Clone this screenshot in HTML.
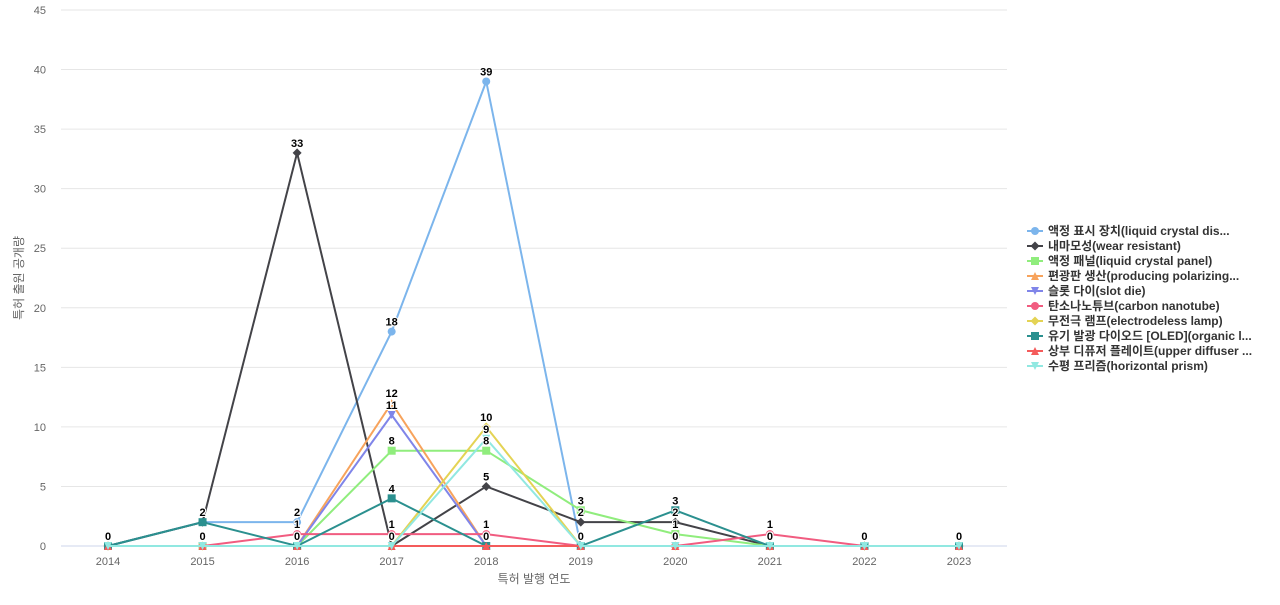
<!DOCTYPE html>
<html><head><meta charset="utf-8"><style>
body{margin:0;background:#fff;font-family:"Liberation Sans","Noto Sans CJK KR",sans-serif}
svg text{font-family:"Liberation Sans","Noto Sans CJK KR",sans-serif}
</style></head><body>
<svg id="c" width="1280" height="600"></svg>
<script>
const years=[2014,2015,2016,2017,2018,2019,2020,2021,2022,2023];
const yTicks=[0,5,10,15,20,25,30,35,40,45];
const names=["액정 표시 장치(liquid crystal dis...","내마모성(wear resistant)","액정 패널(liquid crystal panel)","편광판 생산(producing polarizing...","슬롯 다이(slot die)","탄소나노튜브(carbon nanotube)","무전극 램프(electrodeless lamp)","유기 발광 다이오드 [OLED](organic l...","상부 디퓨저 플레이트(upper diffuser ...","수평 프리즘(horizontal prism)"];
const s0=[0,2,2,18,39,0,0,0,0,0];
const s1=[0,2,33,0,5,2,2,0,0,0];
const s2=[0,0,0,8,8,3,1,0,0,0];
const s3=[0,0,0,12,0,0,0,0,0,0];
const s4=[0,0,0,11,0,0,0,0,0,0];
const s5=[0,0,1,1,1,0,0,1,0,0];
const s6=[0,0,0,0,10,0,0,0,0,0];
const s7=[0,2,0,4,0,0,3,0,0,0];
const s8=[0,0,0,0,0,0,0,0,0,0];
const s9=[0,0,0,0,9,0,0,0,0,0];
const series=[s0,s1,s2,s3,s4,s5,s6,s7,s8,s9];
const colors=["#7cb5ec","#434348","#90ed7d","#f7a35c","#8085e9","#f15c80","#e4d354","#2b908f","#f45b5b","#91e8e1"];
const markers=["circle","diamond","square","triangle","tdown","circle","diamond","square","triangle","tdown"];
const NS="http://www.w3.org/2000/svg";
const svg=document.getElementById('c');
const L=61,R=1007,T=10,B=546;
const x=i=>108+i*(959-108)/(years.length-1);
const y=v=>B-v*(B-T)/45;
function el(t,a,p){const e=document.createElementNS(NS,t);for(const k in a)e.setAttribute(k,a[k]);(p||svg).appendChild(e);return e;}
yTicks.forEach(v=>{
 const g=el('line',{x1:L,x2:R,y1:y(v),y2:y(v),stroke:v?'#e6e6e6':'#ccd6eb'});
 
 
 const t=el('text',{x:46,y:y(v)+4,'text-anchor':'end','font-size':11,fill:'#666'});t.textContent=v;
 
 
});
years.forEach((yr,i)=>{
 const t=el('text',{x:x(i),y:565,'text-anchor':'middle','font-size':11,fill:'#666'});t.textContent=yr;
 
 
});
let t=el('text',{x:534,y:583,'text-anchor':'middle','font-size':12,fill:'#666'});t.textContent='특허 발행 연도';


t=el('text',{x:0,y:0,transform:'translate(23,278) rotate(-90)','text-anchor':'middle','font-size':12,fill:'#666'});t.textContent='특허 출원 공개량';


function marker(kind,cx,cy,c,g){
 let m;
 if(kind==='circle')m=el('circle',{cx,cy,r:4,fill:c},g);
 else if(kind==='square')m=el('rect',{x:cx-4,y:cy-4,width:8,height:8,fill:c},g);
 else if(kind==='diamond')m=el('path',{d:`M${cx} ${cy-4.5}L${cx+4.5} ${cy}L${cx} ${cy+4.5}L${cx-4.5} ${cy}Z`,fill:c},g);
 else if(kind==='triangle')m=el('path',{d:`M${cx} ${cy-4}L${cx+4} ${cy+4}L${cx-4} ${cy+4}Z`,fill:c},g);
 else m=el('path',{d:`M${cx-4} ${cy-4}L${cx+4} ${cy-4}L${cx} ${cy+4}Z`,fill:c},g);
 return m;
}
series.forEach((s,k)=>{
 const g=el('g',{});
 
 
 const p=el('path',{d:s.map((v,i)=>(i?'L':'M')+x(i)+' '+y(v)).join(''),fill:'none',stroke:colors[k],'stroke-width':2},g);
 
 
 s.forEach((v,i)=>{
  const m=marker(markers[k],x(i),y(v),colors[k],g);
  
  
 });
});
// labels (drawn after lines)
series.forEach((s,k)=>{
 s.forEach((v,i)=>{
  const lt=el('text',{x:x(i),y:y(v)-6,'text-anchor':'middle','font-size':11,'font-weight':'bold',fill:'#000',stroke:'#fff','stroke-width':2,'paint-order':'stroke'});
  lt.textContent=v;
  
  
 });
});
names.forEach((n,k)=>{
 const g=el('g',{});
 
 
 const ly=231+k*15;
 el('line',{x1:1027,x2:1043,y1:ly,y2:ly,stroke:colors[k],'stroke-width':2},g);
 marker(markers[k],1035,ly,colors[k],g);
 const tt=el('text',{x:1048,y:ly+4,'font-size':12,'font-weight':'bold',fill:'#333'},g);tt.textContent=n;
});
</script>
</body></html>
